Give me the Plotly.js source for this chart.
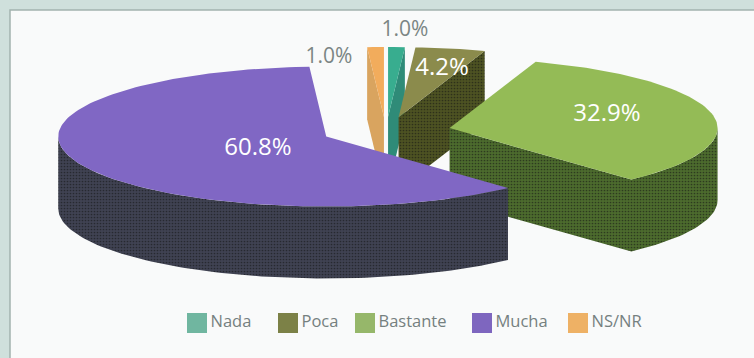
<!DOCTYPE html>
<html>
<head>
<meta charset="utf-8">
<script src="https://cdn.plot.ly/plotly-3.0.1.min.js"></script>
<style>html,body{margin:0;padding:0;background:#fafbfa}</style>
</head>
<body>
<div id="chart" style="width:754px;height:358px"></div>
<script>
// Survey answers, clockwise from twelve o'clock
const categories = ['Nada', 'Poca', 'Bastante', 'Mucha', 'NS/NR'];
const shares = [1.0, 4.2, 32.9, 60.8, 1.0];
const topColors = ['#38ad8f', '#8b8b4c', '#94bb56', '#8067c4', '#f2ac5c'];
const sideColors = ['#2f8b78', '#4d5222', '#4c6b2d', '#3f4252', '#d9a45f'];
const keyColors = ['#70b6a0', '#7c8147', '#96b76a', '#7e66bf', '#eeb165'];
const drawOrder = [4, 0, 1, 2, 3];
const labelSpots = [[405, 31], [442, 69], [607, 115], [258, 149], [329, 58]];
const labelColors = ['#7b8684', '#ffffff', '#ffffff', '#ffffff', '#7b8684'];
const labelSizes = [21, 24, 24, 24, 21];
const keySpots = [197, 288, 365, 482, 578];

// Projection of the tilted disc
const centerX = 386, centerY = 131, radiusX = 268, radiusY = 70;
const pullX = 65, pullY = 14, depth = 72, keyRow = 323;

const rad = d => d * Math.PI / 180;
const total = shares.reduce((s, v) => s + v, 0);

let running = 0;
const wedges = shares.map(v => {
  const start = running * 360 / total;
  running += v;
  const end = running * 360 / total;
  const mid = rad((start + end) / 2);
  return {start, end, cx: centerX + pullX * Math.sin(mid), cy: centerY - pullY * Math.cos(mid)};
});

const rimX = (w, t) => w.cx + radiusX * Math.sin(rad(t));
const rimY = (w, t) => w.cy - radiusY * Math.cos(rad(t));

function arc(w, from, to) {
  const pts = [], n = Math.max(2, Math.ceil((to - from) / 1.5));
  for (let i = 0; i <= n; i++) {
    const t = from + (to - from) * i / n;
    pts.push([rimX(w, t), rimY(w, t)]);
  }
  return pts;
}

// Top of a wedge: apex, then its rim
function topFace(w) {
  const pts = [[w.cx, w.cy], ...arc(w, w.start, w.end), [w.cx, w.cy]];
  return {x: pts.map(p => p[0]), y: pts.map(p => p[1])};
}

// Walls facing the viewer: the front part of the rim and any cut side turned forward
function sideFaces(w) {
  const x = [], y = [];
  const addWall = pts => {
    const loop = [...pts, ...pts.slice().reverse().map(p => [p[0], p[1] + depth]), pts[0]];
    loop.forEach(p => { x.push(p[0]); y.push(p[1]); });
    x.push(null); y.push(null);
  };
  const apex = [w.cx, w.cy];
  if (Math.sin(rad(w.start)) < 0) addWall([apex, [rimX(w, w.start), rimY(w, w.start)]]);
  if (Math.sin(rad(w.end)) > 0) addWall([apex, [rimX(w, w.end), rimY(w, w.end)]]);
  const from = Math.max(w.start, 90), to = Math.min(w.end, 270);
  if (to > from) addWall(arc(w, from, to));
  return {x, y};
}

const traces = [];
drawOrder.forEach(i => {
  const w = wedges[i];
  const side = sideFaces(w), top = topFace(w);
  traces.push({
    type: 'scatter', mode: 'lines', x: side.x, y: side.y, fill: 'toself',
    fillcolor: sideColors[i], line: {width: 0}, hoverinfo: 'skip', showlegend: false,
    fillpattern: (i === 1 || i === 2 || i === 3)
      ? {shape: '.', size: 3, solidity: 0.25, fgcolor: 'rgba(20,20,20,0.55)', bgcolor: sideColors[i]}
      : undefined
  });
  traces.push({
    type: 'scatter', mode: 'lines', x: top.x, y: top.y, fill: 'toself',
    fillcolor: topColors[i], line: {width: 0}, name: categories[i],
    hoverinfo: 'name', showlegend: false
  });
});

// Percentages
traces.push({
  type: 'scatter', mode: 'text',
  x: labelSpots.map(p => p[0]), y: labelSpots.map(p => p[1]),
  text: shares.map(v => v.toFixed(1) + '%'),
  textposition: 'middle center',
  textfont: {family: '"Open Sans", sans-serif', size: labelSizes, color: labelColors},
  hoverinfo: 'skip', showlegend: false
});

// Colour key along the bottom
traces.push({
  type: 'scatter', mode: 'markers+text',
  x: keySpots, y: categories.map(() => keyRow),
  text: categories, textposition: 'middle right',
  textfont: {family: '"Open Sans", sans-serif', size: 16.5, color: '#75807f'},
  marker: {symbol: 'square', size: 20, color: keyColors},
  hoverinfo: 'skip', showlegend: false
});

Plotly.newPlot('chart', traces, {
  width: 754, height: 358,
  margin: {l: 0, r: 0, t: 0, b: 0},
  paper_bgcolor: '#cfe0dc',
  plot_bgcolor: 'rgba(0,0,0,0)',
  xaxis: {range: [0, 754], visible: false, fixedrange: true},
  yaxis: {range: [358, 0], visible: false, fixedrange: true},
  shapes: [{
    type: 'rect', layer: 'below', xref: 'x', yref: 'y', x0: 10, y0: 10, x1: 760, y1: 364,
    fillcolor: '#f9fafa', line: {color: '#a3b3ae', width: 1.5}
  }],
  showlegend: false
}, {displayModeBar: false, staticPlot: true});
</script>
</body>
</html>
